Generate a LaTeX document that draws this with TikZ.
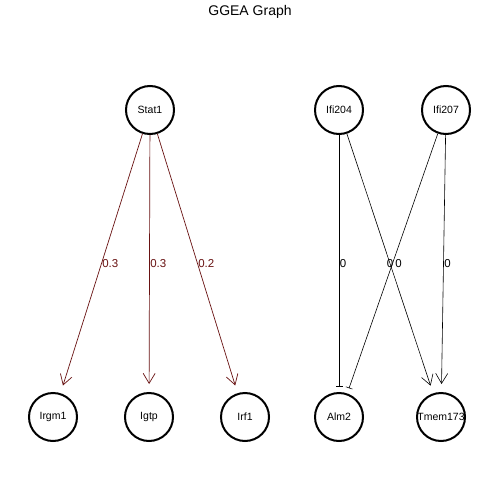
\documentclass[tikz,border=0pt]{standalone}
\usepackage{fontspec}
\setmainfont{Liberation Sans}
\usetikzlibrary{arrows.meta}
\definecolor{actcol}{RGB}{105,18,18}
\begin{document}
\begin{tikzpicture}[x=1pt, y=-1pt,
  gene/.style={circle, draw=black, line width=2pt, minimum size=48pt, inner sep=0pt,
    font=\fontsize{10.5}{12}\selectfont},
  actedge/.style={draw=actcol, line width=0.7pt,
    -{Straight Barb[length=10pt, width=12pt, line width=0.7pt]}, shorten >=8pt},
  plainedge/.style={draw=black, line width=0.6pt,
    -{Straight Barb[length=10pt, width=12pt, line width=0.6pt]}, shorten >=8pt},
  inhedge/.style={draw=black, line width=0.6pt,
    -{Bar[width=7pt, line width=0.6pt]}, shorten >=5.5pt},
  wlab/.style={midway, anchor=west, inner sep=0.5pt, font=\fontsize{11.5}{13}\selectfont},
]
\useasboundingbox (0,0) rectangle (500,500);
\fill[white] (0,0) rectangle (500,500);

% title
\node (title) at (250,12) {\fontsize{14}{16}\selectfont GGEA Graph};

% regulators
\node[gene] (stat1)  at (150,110) {Stat1};
\node[gene] (ifi204) at (339,110) {Ifi204};
\node[gene] (ifi207) at (446,110) {Ifi207};

% targets
\node[gene] (irgm1)   at (53,417)  {Irgm1};
\node[gene] (igtp)    at (149,417) {Igtp};
\node[gene] (irf1)    at (245,417) {Irf1};
\node[gene] (alm2)    at (339,417) {Alm2};
\node[gene] (tmem173) at (441,417) {Tmem173};

% activating edges from Stat1
\draw[actedge] (stat1) -- node[wlab, text=actcol] {0.3} (irgm1);
\draw[actedge] (stat1) -- node[wlab, text=actcol] {0.3} (igtp);
\draw[actedge] (stat1) -- node[wlab, text=actcol] {0.2} (irf1);

% edges from Ifi204 and Ifi207
\draw[inhedge] (ifi204) -- node[wlab] {0} (alm2);
\draw[plainedge] (ifi204) -- node[wlab, xshift=-4pt] {0} (tmem173);
\draw[inhedge] (ifi207) -- node[wlab, xshift=2pt] {0} (alm2);
\draw[plainedge] (ifi207) -- node[wlab] {0} (tmem173);
\end{tikzpicture}
\end{document}
